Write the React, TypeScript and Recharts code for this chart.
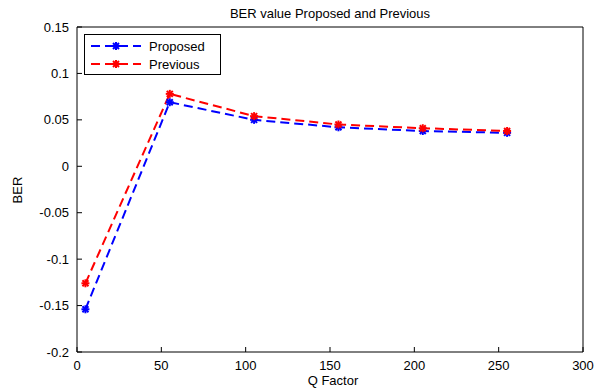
import { LineChart, Line, XAxis, YAxis } from "recharts";

// ---------------------------------------------------------------------------
// Data
// ---------------------------------------------------------------------------

const qFactor = [5, 55, 105, 155, 205, 255];
const proposed = [-0.154, 0.069, 0.05, 0.042, 0.038, 0.036];
const previous = [-0.126, 0.078, 0.054, 0.045, 0.041, 0.038];

const xTicks = [0, 50, 100, 150, 200, 250, 300];
const yTicks = [-0.2, -0.15, -0.1, -0.05, 0, 0.05, 0.1, 0.15];

const SERIES = [
	{ key: "proposed", label: "Proposed", color: "#0000ff" },
	{ key: "previous", label: "Previous", color: "#ff0000" },
];

const data = qFactor.map((q, i) => ({ q, proposed: proposed[i], previous: previous[i] }));

const FONT = "'Liberation Sans', Arial, sans-serif";

// matlab-style "*" marker
function StarDot(props: any) {
	const { cx, cy, stroke } = props;
	if (cx == null || cy == null) return null;
	const r = 4;
	const d = r * 0.75;
	return (
		<g stroke={stroke} strokeWidth={2}>
			<line x1={cx - r} y1={cy} x2={cx + r} y2={cy} />
			<line x1={cx} y1={cy - r} x2={cx} y2={cy + r} />
			<line x1={cx - d} y1={cy - d} x2={cx + d} y2={cy + d} />
			<line x1={cx - d} y1={cy + d} x2={cx + d} y2={cy - d} />
		</g>
	);
}

function LegendBox() {
	return (
		<div
			style={{
				position: "absolute",
				left: 84,
				top: 34,
				border: "1px solid #000",
				background: "#fff",
				width: 137,
				height: 41,
				boxSizing: "border-box",
				fontFamily: FONT,
				fontSize: 13,
				paddingTop: 2,
			}}
		>
			{SERIES.map((s) => (
				<div key={s.key} style={{ display: "flex", alignItems: "center", height: 18 }}>
					<svg width={58} height={12} style={{ marginLeft: 4 }}>
						<line x1={2} y1={6} x2={52} y2={6} stroke={s.color} strokeWidth={2} strokeDasharray="9 5" />
						<StarDot cx={27} cy={6} stroke={s.color} />
					</svg>
					<span style={{ marginLeft: 2, color: "#000" }}>{s.label}</span>
				</div>
			))}
		</div>
	);
}

export default function App() {
	return (
		<div style={{ position: "absolute", left: 0, top: 0, width: 610, height: 391, background: "#fff" }}>
			<LineChart
				width={610}
				height={391}
				data={data}
				margin={{ top: 26, right: 26, left: 0, bottom: 0 }}
				style={{ fontFamily: FONT }}
			>
				<text x={330} y={18} textAnchor="middle" fontSize={13} fill="#000">
					BER value Proposed and Previous
				</text>
				<text x={333} y={385} textAnchor="middle" fontSize={13} fill="#000">
					Q Factor
				</text>
				<text
					x={22}
					y={190}
					textAnchor="middle"
					fontSize={13}
					fill="#000"
					transform="rotate(-90 22 190)"
				>
					BER
				</text>

				<XAxis
					xAxisId="b"
					dataKey="q"
					type="number"
					domain={[0, 300]}
					ticks={xTicks}
					height={39}
					tickSize={-5}
					tickMargin={14}
					stroke="#000"
					tick={{ fill: "#000", fontSize: 13 }}
					interval={0}
				/>
				<XAxis
					xAxisId="t"
					orientation="top"
					dataKey="q"
					type="number"
					domain={[0, 300]}
					ticks={xTicks}
					height={1}
					tickSize={-5}
					tick={false}
					stroke="#000"
				/>
				<YAxis
					yAxisId="l"
					type="number"
					domain={[-0.2, 0.15]}
					ticks={yTicks}
					width={77}
					tickSize={-5}
					tickMargin={13}
					stroke="#000"
					tick={{ fill: "#000", fontSize: 13 }}
					interval={0}
				/>
				<YAxis
					yAxisId="r"
					orientation="right"
					type="number"
					domain={[-0.2, 0.15]}
					ticks={yTicks}
					width={1}
					tickSize={-5}
					tick={false}
					stroke="#000"
				/>

				{SERIES.map((s) => (
					<Line
						key={s.key}
						xAxisId="b"
						yAxisId="l"
						type="linear"
						dataKey={s.key}
						name={s.label}
						stroke={s.color}
						strokeWidth={2}
						strokeDasharray="9 5"
						dot={<StarDot stroke={s.color} />}
						activeDot={false}
						isAnimationActive={false}
					/>
				))}
			</LineChart>
			<LegendBox />
		</div>
	);
}
